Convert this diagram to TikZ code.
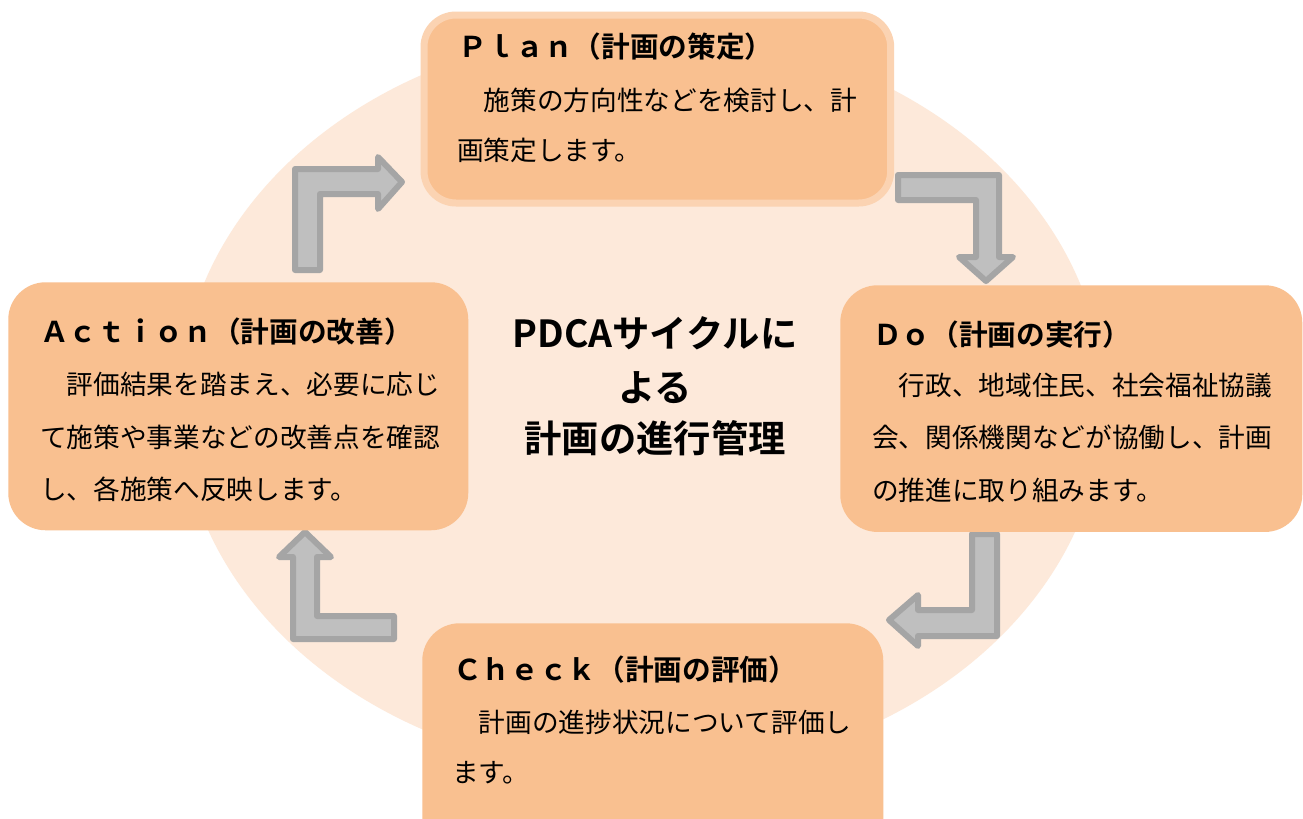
\documentclass[tikz,border=0pt]{standalone}
\usepackage{fontspec}
\setmainfont{Noto Sans CJK JP}[BoldFont={Noto Sans CJK JP Bold}]
\definecolor{ellcol}{HTML}{FDE9DA}
\definecolor{boxcol}{HTML}{F9C090}
\definecolor{rimcol}{HTML}{FBD3B2}
\definecolor{arrfill}{HTML}{BFBFBF}
\definecolor{arrline}{HTML}{A5A5A5}
\begin{document}
\begin{tikzpicture}[x=0.75pt,y=-0.75pt,
  phasebox/.style={fill=boxcol, draw=none, rounded corners=28pt, inner sep=0, anchor=north west},
  blockarrow/.style={fill=arrfill, draw=arrline, line width=4.5pt, line join=round},
  ttl/.style={anchor=west, inner sep=0, font=\fontsize{21.5}{23}\selectfont\bfseries},
  body/.style={anchor=west, inner sep=0, font=\fontsize{20}{22}\selectfont},
  ctr/.style={anchor=center, inner sep=0, font=\fontsize{28}{30}\selectfont\bfseries}]
\clip (0,0) rectangle (1303,818);
\fill[white] (0,0) rectangle (1303,818);
% background ellipse
\fill[ellcol] (642,402) ellipse [x radius=462, y radius=372];

% block arrows
\draw[blockarrow] (295,270) -- (295,169) -- (378,169) -- (378,157) -- (402,182) -- (378,209) -- (378,194) -- (320,194) -- (320,270) -- cycle;
\draw[blockarrow] (898,175) -- (999,175) -- (999,257) -- (1013,257) -- (986,281) -- (959,257) -- (976,257) -- (976,200) -- (898,200) -- cycle;
\draw[blockarrow] (972,534) -- (997,534) -- (997,636) -- (918,636) -- (918,646) -- (889,620) -- (918,595) -- (918,610) -- (972,610) -- cycle;
\draw[blockarrow] (305,532) -- (331,557) -- (317,557) -- (317,616) -- (394,616) -- (394,639) -- (293,639) -- (293,557) -- (279,557) -- cycle;

% boxes
\node[phasebox, draw=rimcol, line width=5.25pt, rounded corners=24pt, minimum width=350pt, minimum height=141pt] (plan) at (420.5,11.5) {};
\node[phasebox, minimum width=345pt, minimum height=186pt] (action) at (8,282) {};
\node[phasebox, minimum width=346.5pt, minimum height=185pt] (do) at (840,285) {};
\node[phasebox, minimum width=345.75pt, minimum height=186pt] (check) at (422,623) {};

% Plan
\node[ttl] (planT) at (458,47) {Ｐｌａｎ（計画の策定）};
\node[body] (planL1) at (457,100) {　施策の方向性などを検討し、計};
\node[body] (planL2) at (457,150) {画策定します。};
% Action
\node[ttl] (actT) at (40,332) {Ａｃｔｉｏｎ（計画の改善）};
\node[body] (actL1) at (40,384) {　評価結果を踏まえ、必要に応じ};
\node[body] (actL2) at (40,437) {て施策や事業などの改善点を確認};
\node[body] (actL3) at (40,489) {し、各施策へ反映します。};
% Do
\node[ttl] (doT) at (873,335) {Ｄｏ（計画の実行）};
\node[body] (doL1) at (872,385) {　行政、地域住民、社会福祉協議};
\node[body] (doL2) at (872,437) {会、関係機関などが協働し、計画};
\node[body] (doL3) at (872,490) {の推進に取り組みます。};
% Check
\node[ttl] (chkT) at (453,670) {Ｃｈｅｃｋ（計画の評価）};
\node[body] (chkL1) at (452,722) {　計画の進捗状況について評価し};
\node[body] (chkL2) at (452,773) {ます。};
% centre
\node[ctr] (c1) at (655,333) {PDCAサイクルに};
\node[ctr] (c2) at (655,388) {よる};
\node[ctr] (c3) at (655,438) {計画の進行管理};
\end{tikzpicture}
\end{document}
